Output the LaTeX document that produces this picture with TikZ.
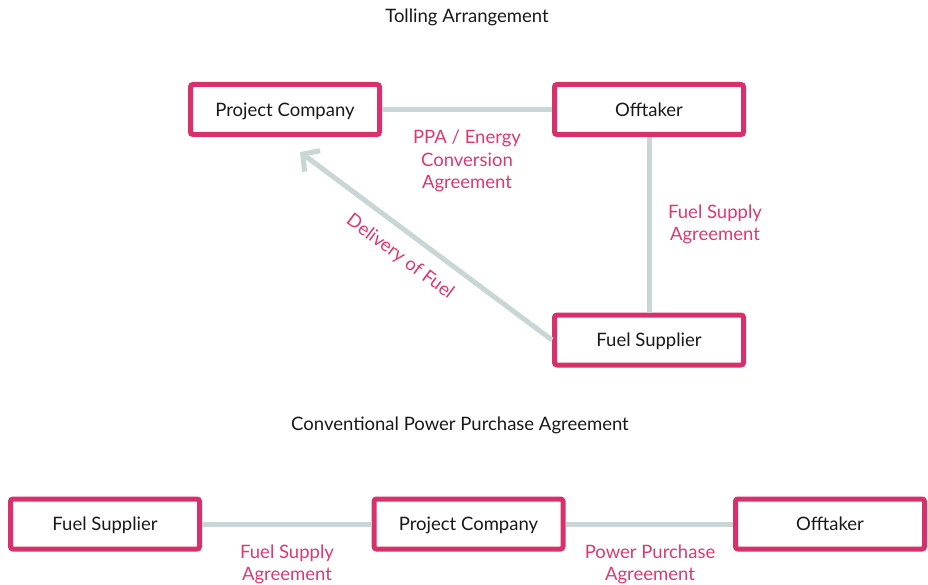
\documentclass[tikz,border=0pt]{standalone}
\usepackage{fontspec}
\setmainfont{Lato}
\usetikzlibrary{arrows.meta}
\definecolor{boxpink}{HTML}{D8306B}
\definecolor{lblpink}{HTML}{DB3A6E}
\definecolor{linegray}{HTML}{C8D7D5}
\tikzset{
  ent/.style={draw=boxpink, line width=5pt, rounded corners=2.5pt, fill=white, minimum width=189pt, minimum height=50pt, inner sep=0pt, text height=14pt, text depth=0.6pt, font=\fontsize{18.5}{22}\selectfont, text=black!90},
  conn/.style={draw=linegray, line width=5pt},
  lbl/.style={text=lblpink, font=\fontsize{18.5}{22.5}\selectfont, align=center, inner sep=0pt},
  ttl/.style={text=black!90, font=\fontsize{18.5}{22}\selectfont, inner sep=0pt}
}
\begin{document}
\begin{tikzpicture}[x=1pt,y=-1pt]
\useasboundingbox (0,0) rectangle (928,585);
\node[ttl] (t1) at (467,17.5) {Tolling Arrangement};
\node[ent] (pc) at (285,109.5) {Project Company};
\node[ent] (off) at (649,109.5) {Offtaker};
\node[ent] (fs) at (649,340) {Fuel Supplier};
\draw[conn] (pc.east) -- (off.west);
\draw[conn] (off.south) -- (fs.north);
\coordinate (tip) at (300,152);
\draw[conn, -{Straight Barb[length=12pt,width=26pt,line width=5pt]}] (fs.west) -- (tip);
\node[lbl] (l1) at (467,161) {PPA / Energy\\Conversion\\Agreement};
\node[lbl] (l2) at (715,224.5) {Fuel Supply\\Agreement};
\node[lbl, rotate=-36.6] (l3) at (400,257) {Delivery of Fuel};
\node[ttl] (t2) at (460,425.5) {Conventional Power Purchase Agreement};
\node[ent] (bfs) at (105,524) {Fuel Supplier};
\node[ent] (bpc) at (468.5,524) {Project Company};
\node[ent] (boff) at (830,524) {Offtaker};
\draw[conn] (bfs.east) -- (bpc.west);
\draw[conn] (bpc.east) -- (boff.west);
\node[lbl] (l4) at (287,564.5) {Fuel Supply\\Agreement};
\node[lbl] (l5) at (650,564.5) {Power Purchase\\Agreement};
\end{tikzpicture}
\end{document}
